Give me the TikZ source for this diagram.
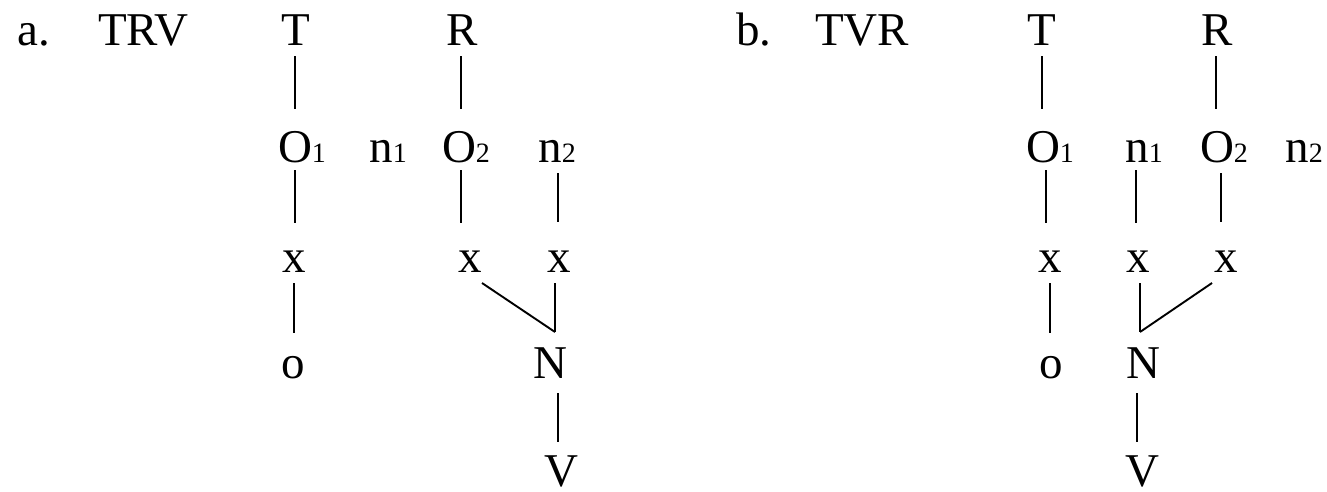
\documentclass[tikz,border=0pt]{standalone}
\usepackage{fontspec}
\setmainfont{Liberation Serif}
\newcommand\sbs[2][0pt]{\rlap{\kern#1{\fontsize{28}{28}\selectfont #2}}}
\begin{document}
\begin{tikzpicture}[x=1pt,y=-1pt,
  letter/.style={anchor=base, inner sep=0pt, font=\fontsize{47}{56}\selectfont},
  lab/.style={anchor=base west, inner sep=0pt, font=\fontsize{47}{56}\selectfont},
  conn/.style={line width=1.9pt}]
\useasboundingbox (0,0) rectangle (1327,491);
% panel a
\node[lab] (la) at (17,45) {a.};
\node[lab] (ta) at (98,45) {TRV};
\node[letter] (aT) at (296,45) {T};
\node[letter] (aR) at (462,45) {R};
\node[letter] (aO1) at (295,162) {O\sbs{1}};
\node[letter] (an1) at (381,162) {n\sbs{1}};
\node[letter] (aO2) at (459,162) {O\sbs{2}};
\node[letter] (an2) at (550,162) {n\sbs{2}};
\node[letter] (ax1) at (294,272) {x};
\node[letter] (ax2) at (470,272) {x};
\node[letter] (ax3) at (559,272) {x};
\node[letter] (ao) at (293,378) {o};
\node[letter] (aN) at (550,378) {N};
\node[letter] (aV) at (561,486) {V};
\draw[conn] ([shift={(-1,11)}]aT.base) -- ([shift={(0,-53)}]aO1.base);
\draw[conn] ([shift={(-1,11)}]aR.base) -- ([shift={(2,-53)}]aO2.base);
\draw[conn] ([shift={(0,8)}]aO1.base) -- ([shift={(1,-49)}]ax1.base);
\draw[conn] ([shift={(2,8)}]aO2.base) -- ([shift={(-9,-49)}]ax2.base);
\draw[conn] ([shift={(8,11)}]an2.base) -- ([shift={(-1,-50)}]ax3.base);
\draw[conn] ([shift={(0,11)}]ax1.base) -- ([shift={(1,-45)}]ao.base);
\draw[conn] ([shift={(12,11)}]ax2.base) -- ([shift={(5,-46)}]aN.base);
\draw[conn] ([shift={(-4,11)}]ax3.base) -- ([shift={(5,-46)}]aN.base);
\draw[conn] ([shift={(8,15)}]aN.base) -- ([shift={(-3,-44)}]aV.base);
% panel b
\node[lab] (lb) at (736,45) {b.};
\node[lab] (tb) at (815,45) {TVR};
\node[letter] (bT) at (1042,45) {T};
\node[letter] (bR) at (1217,45) {R};
\node[letter] (bO1) at (1043,162) {O\sbs{1}};
\node[letter] (bn1) at (1137,162) {n\sbs{1}};
\node[letter] (bO2) at (1217,162) {O\sbs{2}};
\node[letter] (bn2) at (1297,162) {n\sbs{2}};
\node[letter] (bx1) at (1050,272) {x};
\node[letter] (bx2) at (1138,272) {x};
\node[letter] (bx3) at (1226,272) {x};
\node[letter] (bo) at (1051,378) {o};
\node[letter] (bN) at (1143,378) {N};
\node[letter] (bV) at (1142,486) {V};
\draw[conn] ([shift={(0,11)}]bT.base) -- ([shift={(-1,-53)}]bO1.base);
\draw[conn] ([shift={(-1,11)}]bR.base) -- ([shift={(-1,-53)}]bO2.base);
\draw[conn] ([shift={(3,8)}]bO1.base) -- ([shift={(-4,-49)}]bx1.base);
\draw[conn] ([shift={(-1,8)}]bn1.base) -- ([shift={(-2,-49)}]bx2.base);
\draw[conn] ([shift={(4,11)}]bO2.base) -- ([shift={(-5,-50)}]bx3.base);
\draw[conn] ([shift={(0,11)}]bx1.base) -- ([shift={(-1,-45)}]bo.base);
\draw[conn] ([shift={(2,11)}]bx2.base) -- ([shift={(-3,-46)}]bN.base);
\draw[conn] ([shift={(-14,11)}]bx3.base) -- ([shift={(-3,-46)}]bN.base);
\draw[conn] ([shift={(-6,15)}]bN.base) -- ([shift={(-5,-44)}]bV.base);
\end{tikzpicture}
\end{document}
